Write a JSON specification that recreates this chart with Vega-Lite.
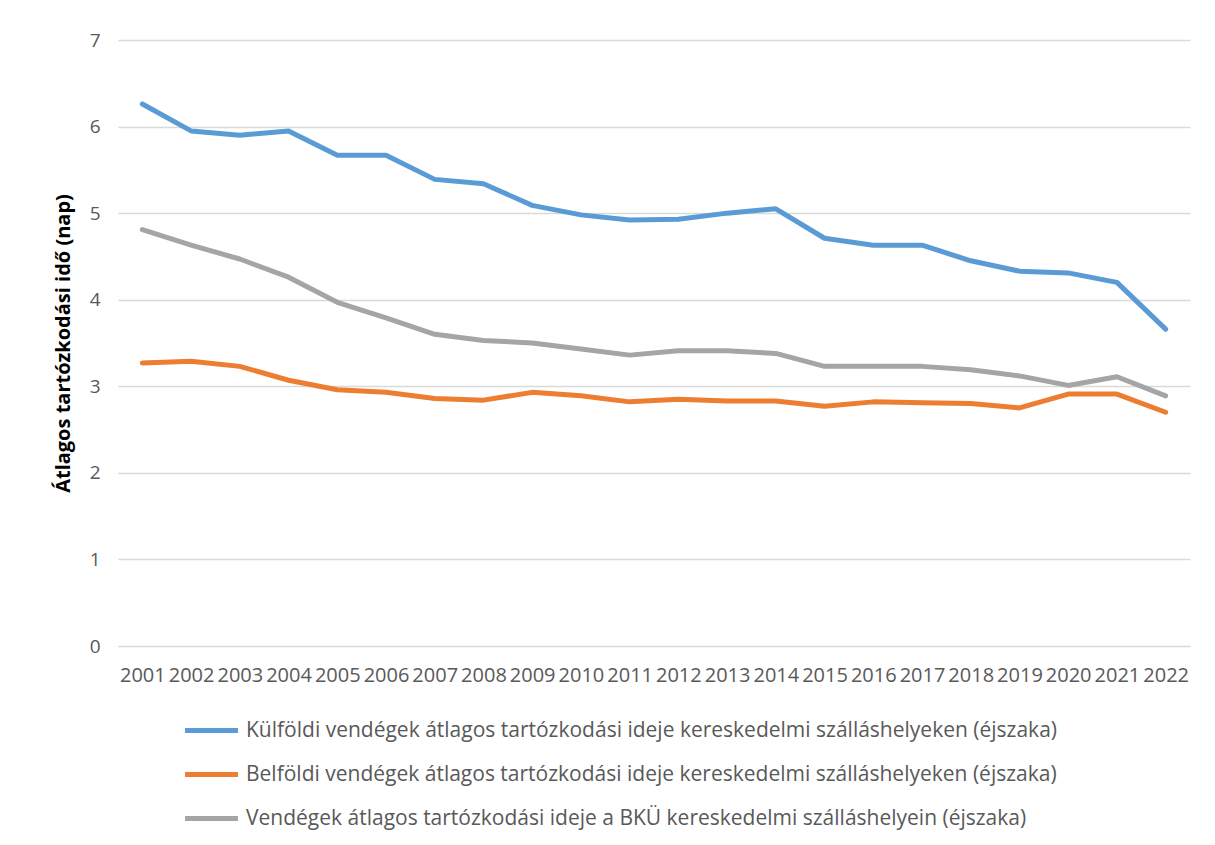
{
  "$schema": "https://vega.github.io/schema/vega-lite/v6.json",
  "width": 1072,
  "height": 606,
  "autosize": {"type": "none"},
  "padding": {"left": 118, "top": 40, "right": 25, "bottom": 199},
  "background": "white",
  "config": {
    "view": {"stroke": null},
    "font": "Open Sans"
  },
  "data": {
    "values": [
      {"year": "2001", "series": "Külföldi vendégek átlagos tartózkodási ideje kereskedelmi szálláshelyeken (éjszaka)", "value": 6.26},
      {"year": "2002", "series": "Külföldi vendégek átlagos tartózkodási ideje kereskedelmi szálláshelyeken (éjszaka)", "value": 5.95},
      {"year": "2003", "series": "Külföldi vendégek átlagos tartózkodási ideje kereskedelmi szálláshelyeken (éjszaka)", "value": 5.90},
      {"year": "2004", "series": "Külföldi vendégek átlagos tartózkodási ideje kereskedelmi szálláshelyeken (éjszaka)", "value": 5.95},
      {"year": "2005", "series": "Külföldi vendégek átlagos tartózkodási ideje kereskedelmi szálláshelyeken (éjszaka)", "value": 5.67},
      {"year": "2006", "series": "Külföldi vendégek átlagos tartózkodási ideje kereskedelmi szálláshelyeken (éjszaka)", "value": 5.67},
      {"year": "2007", "series": "Külföldi vendégek átlagos tartózkodási ideje kereskedelmi szálláshelyeken (éjszaka)", "value": 5.39},
      {"year": "2008", "series": "Külföldi vendégek átlagos tartózkodási ideje kereskedelmi szálláshelyeken (éjszaka)", "value": 5.34},
      {"year": "2009", "series": "Külföldi vendégek átlagos tartózkodási ideje kereskedelmi szálláshelyeken (éjszaka)", "value": 5.09},
      {"year": "2010", "series": "Külföldi vendégek átlagos tartózkodási ideje kereskedelmi szálláshelyeken (éjszaka)", "value": 4.98},
      {"year": "2011", "series": "Külföldi vendégek átlagos tartózkodási ideje kereskedelmi szálláshelyeken (éjszaka)", "value": 4.92},
      {"year": "2012", "series": "Külföldi vendégek átlagos tartózkodási ideje kereskedelmi szálláshelyeken (éjszaka)", "value": 4.93},
      {"year": "2013", "series": "Külföldi vendégek átlagos tartózkodási ideje kereskedelmi szálláshelyeken (éjszaka)", "value": 5.00},
      {"year": "2014", "series": "Külföldi vendégek átlagos tartózkodási ideje kereskedelmi szálláshelyeken (éjszaka)", "value": 5.05},
      {"year": "2015", "series": "Külföldi vendégek átlagos tartózkodási ideje kereskedelmi szálláshelyeken (éjszaka)", "value": 4.71},
      {"year": "2016", "series": "Külföldi vendégek átlagos tartózkodási ideje kereskedelmi szálláshelyeken (éjszaka)", "value": 4.63},
      {"year": "2017", "series": "Külföldi vendégek átlagos tartózkodási ideje kereskedelmi szálláshelyeken (éjszaka)", "value": 4.63},
      {"year": "2018", "series": "Külföldi vendégek átlagos tartózkodási ideje kereskedelmi szálláshelyeken (éjszaka)", "value": 4.45},
      {"year": "2019", "series": "Külföldi vendégek átlagos tartózkodási ideje kereskedelmi szálláshelyeken (éjszaka)", "value": 4.33},
      {"year": "2020", "series": "Külföldi vendégek átlagos tartózkodási ideje kereskedelmi szálláshelyeken (éjszaka)", "value": 4.31},
      {"year": "2021", "series": "Külföldi vendégek átlagos tartózkodási ideje kereskedelmi szálláshelyeken (éjszaka)", "value": 4.20},
      {"year": "2022", "series": "Külföldi vendégek átlagos tartózkodási ideje kereskedelmi szálláshelyeken (éjszaka)", "value": 3.66},
      {"year": "2001", "series": "Belföldi vendégek átlagos tartózkodási ideje kereskedelmi szálláshelyeken (éjszaka)", "value": 3.27},
      {"year": "2002", "series": "Belföldi vendégek átlagos tartózkodási ideje kereskedelmi szálláshelyeken (éjszaka)", "value": 3.29},
      {"year": "2003", "series": "Belföldi vendégek átlagos tartózkodási ideje kereskedelmi szálláshelyeken (éjszaka)", "value": 3.23},
      {"year": "2004", "series": "Belföldi vendégek átlagos tartózkodási ideje kereskedelmi szálláshelyeken (éjszaka)", "value": 3.07},
      {"year": "2005", "series": "Belföldi vendégek átlagos tartózkodási ideje kereskedelmi szálláshelyeken (éjszaka)", "value": 2.96},
      {"year": "2006", "series": "Belföldi vendégek átlagos tartózkodási ideje kereskedelmi szálláshelyeken (éjszaka)", "value": 2.93},
      {"year": "2007", "series": "Belföldi vendégek átlagos tartózkodási ideje kereskedelmi szálláshelyeken (éjszaka)", "value": 2.86},
      {"year": "2008", "series": "Belföldi vendégek átlagos tartózkodási ideje kereskedelmi szálláshelyeken (éjszaka)", "value": 2.84},
      {"year": "2009", "series": "Belföldi vendégek átlagos tartózkodási ideje kereskedelmi szálláshelyeken (éjszaka)", "value": 2.93},
      {"year": "2010", "series": "Belföldi vendégek átlagos tartózkodási ideje kereskedelmi szálláshelyeken (éjszaka)", "value": 2.89},
      {"year": "2011", "series": "Belföldi vendégek átlagos tartózkodási ideje kereskedelmi szálláshelyeken (éjszaka)", "value": 2.82},
      {"year": "2012", "series": "Belföldi vendégek átlagos tartózkodási ideje kereskedelmi szálláshelyeken (éjszaka)", "value": 2.85},
      {"year": "2013", "series": "Belföldi vendégek átlagos tartózkodási ideje kereskedelmi szálláshelyeken (éjszaka)", "value": 2.83},
      {"year": "2014", "series": "Belföldi vendégek átlagos tartózkodási ideje kereskedelmi szálláshelyeken (éjszaka)", "value": 2.83},
      {"year": "2015", "series": "Belföldi vendégek átlagos tartózkodási ideje kereskedelmi szálláshelyeken (éjszaka)", "value": 2.77},
      {"year": "2016", "series": "Belföldi vendégek átlagos tartózkodási ideje kereskedelmi szálláshelyeken (éjszaka)", "value": 2.82},
      {"year": "2017", "series": "Belföldi vendégek átlagos tartózkodási ideje kereskedelmi szálláshelyeken (éjszaka)", "value": 2.81},
      {"year": "2018", "series": "Belföldi vendégek átlagos tartózkodási ideje kereskedelmi szálláshelyeken (éjszaka)", "value": 2.80},
      {"year": "2019", "series": "Belföldi vendégek átlagos tartózkodási ideje kereskedelmi szálláshelyeken (éjszaka)", "value": 2.75},
      {"year": "2020", "series": "Belföldi vendégek átlagos tartózkodási ideje kereskedelmi szálláshelyeken (éjszaka)", "value": 2.91},
      {"year": "2021", "series": "Belföldi vendégek átlagos tartózkodási ideje kereskedelmi szálláshelyeken (éjszaka)", "value": 2.91},
      {"year": "2022", "series": "Belföldi vendégek átlagos tartózkodási ideje kereskedelmi szálláshelyeken (éjszaka)", "value": 2.70},
      {"year": "2001", "series": "Vendégek átlagos tartózkodási ideje a BKÜ kereskedelmi szálláshelyein (éjszaka)", "value": 4.81},
      {"year": "2002", "series": "Vendégek átlagos tartózkodási ideje a BKÜ kereskedelmi szálláshelyein (éjszaka)", "value": 4.63},
      {"year": "2003", "series": "Vendégek átlagos tartózkodási ideje a BKÜ kereskedelmi szálláshelyein (éjszaka)", "value": 4.47},
      {"year": "2004", "series": "Vendégek átlagos tartózkodási ideje a BKÜ kereskedelmi szálláshelyein (éjszaka)", "value": 4.26},
      {"year": "2005", "series": "Vendégek átlagos tartózkodási ideje a BKÜ kereskedelmi szálláshelyein (éjszaka)", "value": 3.97},
      {"year": "2006", "series": "Vendégek átlagos tartózkodási ideje a BKÜ kereskedelmi szálláshelyein (éjszaka)", "value": 3.79},
      {"year": "2007", "series": "Vendégek átlagos tartózkodási ideje a BKÜ kereskedelmi szálláshelyein (éjszaka)", "value": 3.60},
      {"year": "2008", "series": "Vendégek átlagos tartózkodási ideje a BKÜ kereskedelmi szálláshelyein (éjszaka)", "value": 3.53},
      {"year": "2009", "series": "Vendégek átlagos tartózkodási ideje a BKÜ kereskedelmi szálláshelyein (éjszaka)", "value": 3.50},
      {"year": "2010", "series": "Vendégek átlagos tartózkodási ideje a BKÜ kereskedelmi szálláshelyein (éjszaka)", "value": 3.43},
      {"year": "2011", "series": "Vendégek átlagos tartózkodási ideje a BKÜ kereskedelmi szálláshelyein (éjszaka)", "value": 3.36},
      {"year": "2012", "series": "Vendégek átlagos tartózkodási ideje a BKÜ kereskedelmi szálláshelyein (éjszaka)", "value": 3.41},
      {"year": "2013", "series": "Vendégek átlagos tartózkodási ideje a BKÜ kereskedelmi szálláshelyein (éjszaka)", "value": 3.41},
      {"year": "2014", "series": "Vendégek átlagos tartózkodási ideje a BKÜ kereskedelmi szálláshelyein (éjszaka)", "value": 3.38},
      {"year": "2015", "series": "Vendégek átlagos tartózkodási ideje a BKÜ kereskedelmi szálláshelyein (éjszaka)", "value": 3.23},
      {"year": "2016", "series": "Vendégek átlagos tartózkodási ideje a BKÜ kereskedelmi szálláshelyein (éjszaka)", "value": 3.23},
      {"year": "2017", "series": "Vendégek átlagos tartózkodási ideje a BKÜ kereskedelmi szálláshelyein (éjszaka)", "value": 3.23},
      {"year": "2018", "series": "Vendégek átlagos tartózkodási ideje a BKÜ kereskedelmi szálláshelyein (éjszaka)", "value": 3.19},
      {"year": "2019", "series": "Vendégek átlagos tartózkodási ideje a BKÜ kereskedelmi szálláshelyein (éjszaka)", "value": 3.12},
      {"year": "2020", "series": "Vendégek átlagos tartózkodási ideje a BKÜ kereskedelmi szálláshelyein (éjszaka)", "value": 3.01},
      {"year": "2021", "series": "Vendégek átlagos tartózkodási ideje a BKÜ kereskedelmi szálláshelyein (éjszaka)", "value": 3.11},
      {"year": "2022", "series": "Vendégek átlagos tartózkodási ideje a BKÜ kereskedelmi szálláshelyein (éjszaka)", "value": 2.89}
    ]
  },
  "mark": {"type": "line", "strokeWidth": 5, "strokeCap": "round", "strokeJoin": "round"},
  "encoding": {
    "x": {
      "field": "year",
      "type": "ordinal",
      "scale": {"type": "point", "padding": 0.5},
      "axis": {
        "title": null,
        "labelAngle": 0,
        "labelFontSize": 20,
        "labelColor": "#595959",
        "labelPadding": 19,
        "labelOverlap": false,
        "labelBound": false,
        "labelFlush": false,
        "ticks": false,
        "domain": false,
        "grid": false
      }
    },
    "y": {
      "field": "value",
      "type": "quantitative",
      "scale": {"domain": [0, 7], "nice": false, "zero": true},
      "axis": {
        "title": "Átlagos tartózkodási idő (nap)",
        "titleFont": "Open Sans",
        "titleFontSize": 20,
        "titleFontWeight": "bold",
        "titleColor": "#000000",
        "titlePadding": 16,
        "values": [0, 1, 2, 3, 4, 5, 6, 7],
        "labelFontSize": 19,
        "labelColor": "#595959",
        "labelPadding": 18,
        "ticks": false,
        "domain": false,
        "grid": true,
        "gridColor": "#d9d9d9",
        "gridWidth": 1.5
      }
    },
    "color": {
      "field": "series",
      "type": "nominal",
      "sort": [
        "Külföldi vendégek átlagos tartózkodási ideje kereskedelmi szálláshelyeken (éjszaka)",
        "Belföldi vendégek átlagos tartózkodási ideje kereskedelmi szálláshelyeken (éjszaka)",
        "Vendégek átlagos tartózkodási ideje a BKÜ kereskedelmi szálláshelyein (éjszaka)"
      ],
      "scale": {
        "domain": [
          "Külföldi vendégek átlagos tartózkodási ideje kereskedelmi szálláshelyeken (éjszaka)",
          "Belföldi vendégek átlagos tartózkodási ideje kereskedelmi szálláshelyeken (éjszaka)",
          "Vendégek átlagos tartózkodási ideje a BKÜ kereskedelmi szálláshelyein (éjszaka)"
        ],
        "range": ["#5b9bd5", "#ed7d31", "#a5a5a5"]
      },
      "legend": {
        "title": null,
        "orient": "none",
        "legendX": 83,
        "legendY": 680,
        "direction": "vertical",
        "symbolType": "M-5,0H5",
        "symbolSize": 112,
        "symbolStrokeWidth": 5,
        "labelFontSize": 21,
        "labelColor": "#595959",
        "labelLimit": 1000,
        "labelOffset": 24,
        "rowPadding": 22
      }
    }
  }
}
